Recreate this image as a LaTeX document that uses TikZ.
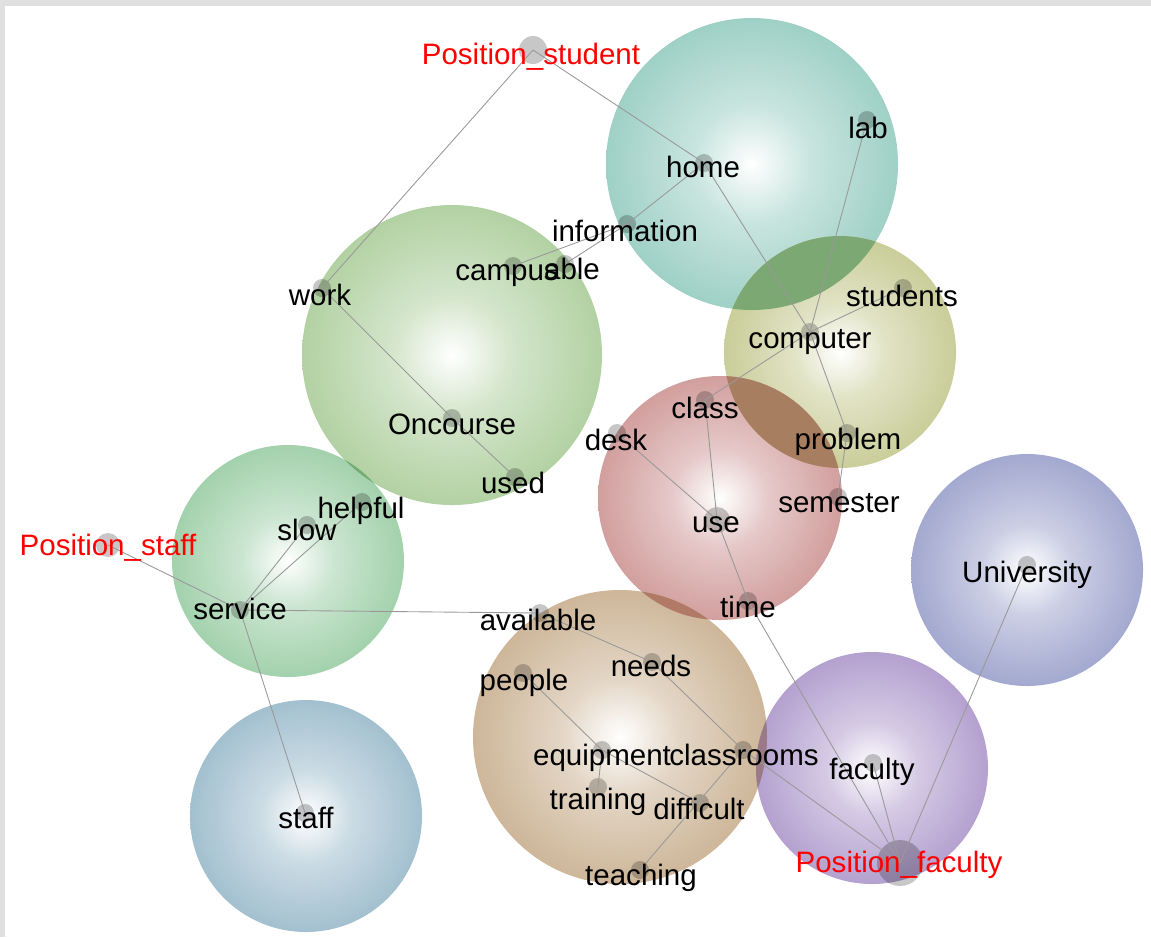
\documentclass[tikz,border=0pt]{standalone}
\usepackage{fontspec}
\setmainfont{Liberation Sans}
\definecolor{tealb}{HTML}{9CCFC4}
\definecolor{greenb}{HTML}{B0D0A0}
\definecolor{oliveb}{HTML}{C8CC96}
\definecolor{redb}{HTML}{D09C9B}
\definecolor{mintb}{HTML}{A0D0AA}
\definecolor{steelb}{HTML}{A0BECE}
\definecolor{tanb}{HTML}{CCB496}
\definecolor{violetb}{HTML}{B29ECE}
\definecolor{indigob}{HTML}{A0A6CE}
% overlaps
\definecolor{tealolive}{HTML}{7CA874}
\definecolor{redolive}{HTML}{A87E60}
\definecolor{redtan}{HTML}{B07A66}
\definecolor{tanviolet}{HTML}{9A7A86}
\definecolor{greenmint}{HTML}{74AC70}
\makeatletter
\pgfdeclareradialshading[tikz@radial@inner,tikz@radial@outer]{glow}{\pgfpointorigin}{%
    color(0bp)=(tikz@radial@inner);
    color(10bp)=(tikz@radial@outer!55!tikz@radial@inner);
    color(26bp)=(tikz@radial@outer);
    color(50bp)=(tikz@radial@outer)}
\makeatother
\tikzset{
    bubble/.style={inner color=white, outer color=#1, shading=glow},
    dot/.style={circle, fill=black, fill opacity=0.22, inner sep=0pt, minimum size=0.36cm},
    word/.style={inner sep=0pt, text height=12pt, text depth=0pt, font=\fontsize{16.8}{18}\selectfont},
    edge/.style={draw=black!40, line width=0.5pt},
}
\begin{document}
\begin{tikzpicture}[x=0.02cm, y=-0.02cm]
    \useasboundingbox (0,0) rectangle (1151,937);
    \fill[black!12] (0,0) rectangle (1151,6);
    \fill[black!12] (0,0) rectangle (5,937);
    % clusters
    \foreach \x/\y/\r/\c in {752/164/146/tealb, 452/355/150/greenb, 840/352/116/oliveb,
                             720/498/122/redb, 288/561/116/mintb, 306/816/116/steelb,
                             620/737/147/tanb, 872/768/116/violetb, 1027/570/116/indigob} {
        \shade[bubble=\c] (\x,\y) circle (\r);
    }
    \foreach \ax/\ay/\ar/\bx/\by/\br/\m in {752/164/146/840/352/116/tealolive,
                                            720/498/122/840/352/116/redolive,
                                            720/498/122/620/737/147/redtan,
                                            620/737/147/872/768/116/tanviolet,
                                            452/355/150/288/561/116/greenmint} {
        \begin{scope}
            \clip (\ax,\ay) circle (\ar);
            \fill[\m] (\bx,\by) circle (\br);
        \end{scope}
    }
    % terms
    \foreach \n/\x/\y in {home/704/163, lab/867/120, information/627/224, campus/513/266,
                          able/565/264, work/322/288, Oncourse/452/418, used/515/477,
                          desk/617/433, class/705/400, computer/810/332, students/903/288,
                          problem/847/433, semester/838/497, time/748/601, helpful/362/502,
                          slow/307/525, service/240/610, staff/305/813, available/540/613,
                          needs/652/662, people/523/673, equipment/602/750, classrooms/743/750,
                          training/598/787, difficult/700/803, teaching/640/870, faculty/873/763,
                          University/1027/565} {
        \node[dot] (\n) at (\x,\y) {};
    }
    \node[dot, minimum size=0.56cm] (pstudent) at (533,50) {};
    \node[dot, minimum size=0.48cm] (pstaff) at (108,545) {};
    \node[dot, minimum size=0.92cm] (pfaculty) at (900,863) {};
    \node[dot, minimum size=0.52cm] (use) at (717,520) {};
    % links
    \foreach \a/\b in {pstudent/work, pstudent/home, home/information, information/campus,
                       information/able, home/computer, lab/computer, computer/students,
                       computer/class, computer/problem, problem/semester, class/use,
                       desk/use, use/time, time/pfaculty, work/Oncourse, Oncourse/used,
                       pstaff/service, service/slow, service/helpful, service/staff,
                       service/available, available/needs, needs/classrooms, people/equipment,
                       equipment/training, equipment/difficult, classrooms/teaching,
                       classrooms/pfaculty, faculty/pfaculty, University/pfaculty} {
        \draw[edge] (\a.center) -- (\b.center);
    }
    % labels
    \foreach \n/\x/\y/\lab in {home/703/167/home, lab/868/128/lab, information/625/231/information,
                               campus/507/270/campus, able/572/269/able, work/320/295/work,
                               Oncourse/452/424/Oncourse, used/513/483/used, desk/616/440/desk,
                               class/705/408/class, computer/810/338/computer, students/902/296/students,
                               problem/848/439/problem, semester/839/502/semester, use/716/522/use,
                               time/748/607/time, helpful/361/508/helpful, slow/307/530/slow,
                               service/240/609/service, staff/306/818/staff, available/538/620/available,
                               needs/651/666/needs, people/524/680/people, equipment/602/755/equipment,
                               classrooms/744/755/classrooms, training/598/799/training,
                               difficult/699/809/difficult, teaching/641/875/teaching,
                               faculty/872/769/faculty, University/1027/572/University} {
        \node[word] (\n-l) at (\x,\y) {\lab};
    }
    \foreach \n/\x/\y/\lab in {pstudent/531/54/{Position\_student}, pstaff/108/545/{Position\_staff},
                               pfaculty/899/862/{Position\_faculty}} {
        \node[word, text=red] (\n-l) at (\x,\y) {\lab};
    }
\end{tikzpicture}
\end{document}
